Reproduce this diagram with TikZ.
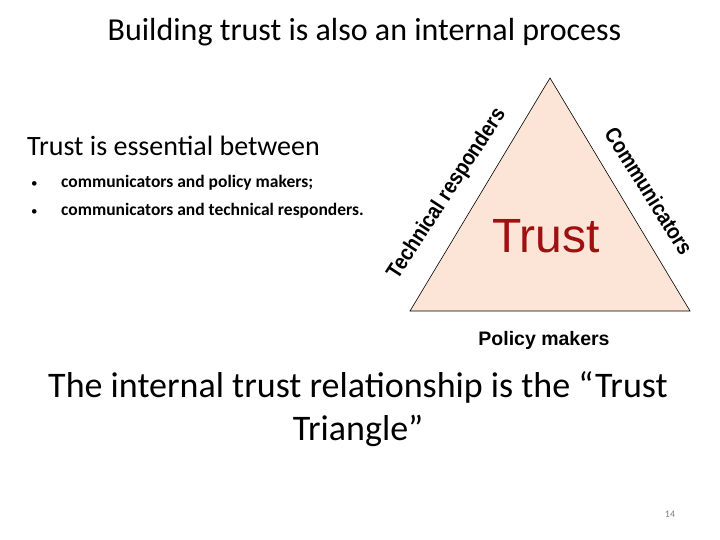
\documentclass[tikz,border=0pt]{standalone}
\usepackage{fontspec}
\setmainfont{Carlito}
\newfontfamily\arialfont{Liberation Sans}
\usepackage{xcolor}
\usetikzlibrary{positioning}

\definecolor{peach}{RGB}{252,229,214}
\definecolor{trustred}{RGB}{160,16,16}

\begin{document}
\begin{tikzpicture}[
  x=1pt, y=-1pt,
  ttl/.style={font=\fontsize{32}{38}\selectfont, inner sep=0pt, anchor=base},
  head/.style={font=\fontsize{28}{34}\selectfont, inner sep=0pt, anchor=base west},
  bul/.style={font=\bfseries\fontsize{17.5}{21}\selectfont, inner sep=0pt, anchor=base west},
  side/.style={font=\arialfont\bfseries\fontsize{22}{26}\selectfont, inner sep=0pt},
  capt/.style={font=\fontsize{36}{43}\selectfont, align=center, inner sep=0pt}
]
\useasboundingbox[fill=white] (0,0) rectangle (720,540);

% ---- title ----
\node[ttl] (title) at (364.5,41) {Building trust is also an internal process};

% ---- left text ----
\node[head] (ess) at (27,156) {Trust is essential between};
\node[bul] (dot1) at (31,188) {\normalfont\fontsize{13}{16}\selectfont\textbullet};
\node[bul] (b1) at (61,188) {communicators and policy makers;};
\node[bul] (dot2) at (31,215) {\normalfont\fontsize{13}{16}\selectfont\textbullet};
\node[bul] (b2) at (61,215) {communicators and technical responders.};

% ---- trust triangle ----
\coordinate (top) at (550,78);
\coordinate (bl) at (410,311);
\coordinate (br) at (690,311);
\draw[fill=peach, line width=0.6pt] (top) -- (bl) -- (br) -- cycle;

\node[font=\arialfont\fontsize{48}{56}\selectfont, text=trustred, inner sep=0pt, anchor=base]
  (trust) at (546,252) {Trust};
\node[side, rotate=57, xscale=0.88] (tech) at (447,194) {Technical responders};
\node[side, rotate=-58, xscale=0.87] (comm) at (649,191) {Communicators};
\node[side, anchor=base, font=\arialfont\bfseries\fontsize{19.5}{22}\selectfont] (pol) at (544,345) {Policy makers};

% ---- caption ----
\node[capt] (cap) at (358,409) {The internal trust relationship is the \textquotedblleft Trust\\Triangle\textquotedblright};

% ---- page number ----
\node[font=\fontsize{10}{12}\selectfont, text=black!50, inner sep=0pt] (num) at (670,514) {14};
\end{tikzpicture}
\end{document}
